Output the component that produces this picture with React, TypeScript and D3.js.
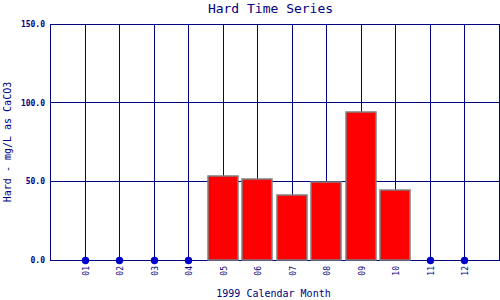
import React from "react";
import * as d3 from "d3";

const months = ["01", "02", "03", "04", "05", "06", "07", "08", "09", "10", "11", "12"];
const values: (number | null)[] = [null, null, null, null, 53.3, 51.3, 41.3, 49.5, 94, 44.5, null, null];
const yTicks = [0, 50, 100, 150];

const W = 500, H = 300;
const left = 50, right = 499, top = 24, bottom = 260;
const navy = "#000080";
const mono = "'DejaVu Sans Mono', 'Liberation Mono', monospace";
const px = (v: number) => Math.floor(v) + 0.5;

export default function App() {
  const x = d3.scaleLinear().domain([0, 13]).range([left + 0.5, right]);
  const y = d3.scaleLinear().domain([0, 150]).range([bottom, top]);
  const barW = 30;
  return (
    <svg width={W} height={H} style={{ position: "absolute", left: 0, top: 0, background: "#fff" }}>
      <rect x={0} y={0} width={W} height={H} fill="#fff" />
      <g shapeRendering="crispEdges">
        {yTicks.map((t) => (
          <line key={t} x1={left} x2={right + 1} y1={px(y(t))} y2={px(y(t))} stroke={navy} strokeWidth={1} />
        ))}
        {months.map((m, i) => (
          <line key={m} x1={px(x(i + 1))} x2={px(x(i + 1))} y1={top} y2={bottom} stroke={navy} strokeWidth={1} />
        ))}
        <line x1={px(left)} x2={px(left)} y1={top} y2={bottom + 1} stroke={navy} strokeWidth={1} />
        <line x1={px(right)} x2={px(right)} y1={top} y2={bottom + 1} stroke={navy} strokeWidth={1} />
      </g>
      {yTicks.map((t) => (
        <text key={t} x={45} y={y(t) + 3} textAnchor="end" fontFamily={mono} fontSize={8} fontWeight="bold" fill={navy}>
          {t.toFixed(1)}
        </text>
      ))}
      {months.map((m, i) => {
        const v = values[i];
        if (v == null) {
          return <circle key={m} cx={px(x(i + 1))} cy={px(y(0))} r={3.7} fill="#0000cc" />;
        }
        return (
          <rect key={m} x={Math.floor(x(i + 1)) - barW / 2} y={Math.round(y(v))} width={barW} height={Math.round(y(0)) - Math.round(y(v))} fill="#ff0000" stroke="#808080" strokeWidth={1.5} />
        );
      })}
      {months.map((m, i) => (
        <text key={m} transform={`translate(${px(x(i + 1)) + 3},${bottom + 6}) rotate(-90)`} textAnchor="end" fontFamily={mono} fontSize={8} fill={navy}>
          {m}
        </text>
      ))}
      <text x={270.5} y={13} textAnchor="middle" fontFamily={mono} fontSize={13} fill={navy}>Hard Time Series</text>
      <text x={273.5} y={297} textAnchor="middle" fontFamily={mono} fontSize={10} fill={navy}>1999 Calendar Month</text>
      <text transform={`translate(11,${(top + bottom) / 2}) rotate(-90)`} textAnchor="middle" fontFamily={mono} fontSize={10} fill={navy}>
        Hard - mg/L as CaCO3
      </text>
    </svg>
  );
}
